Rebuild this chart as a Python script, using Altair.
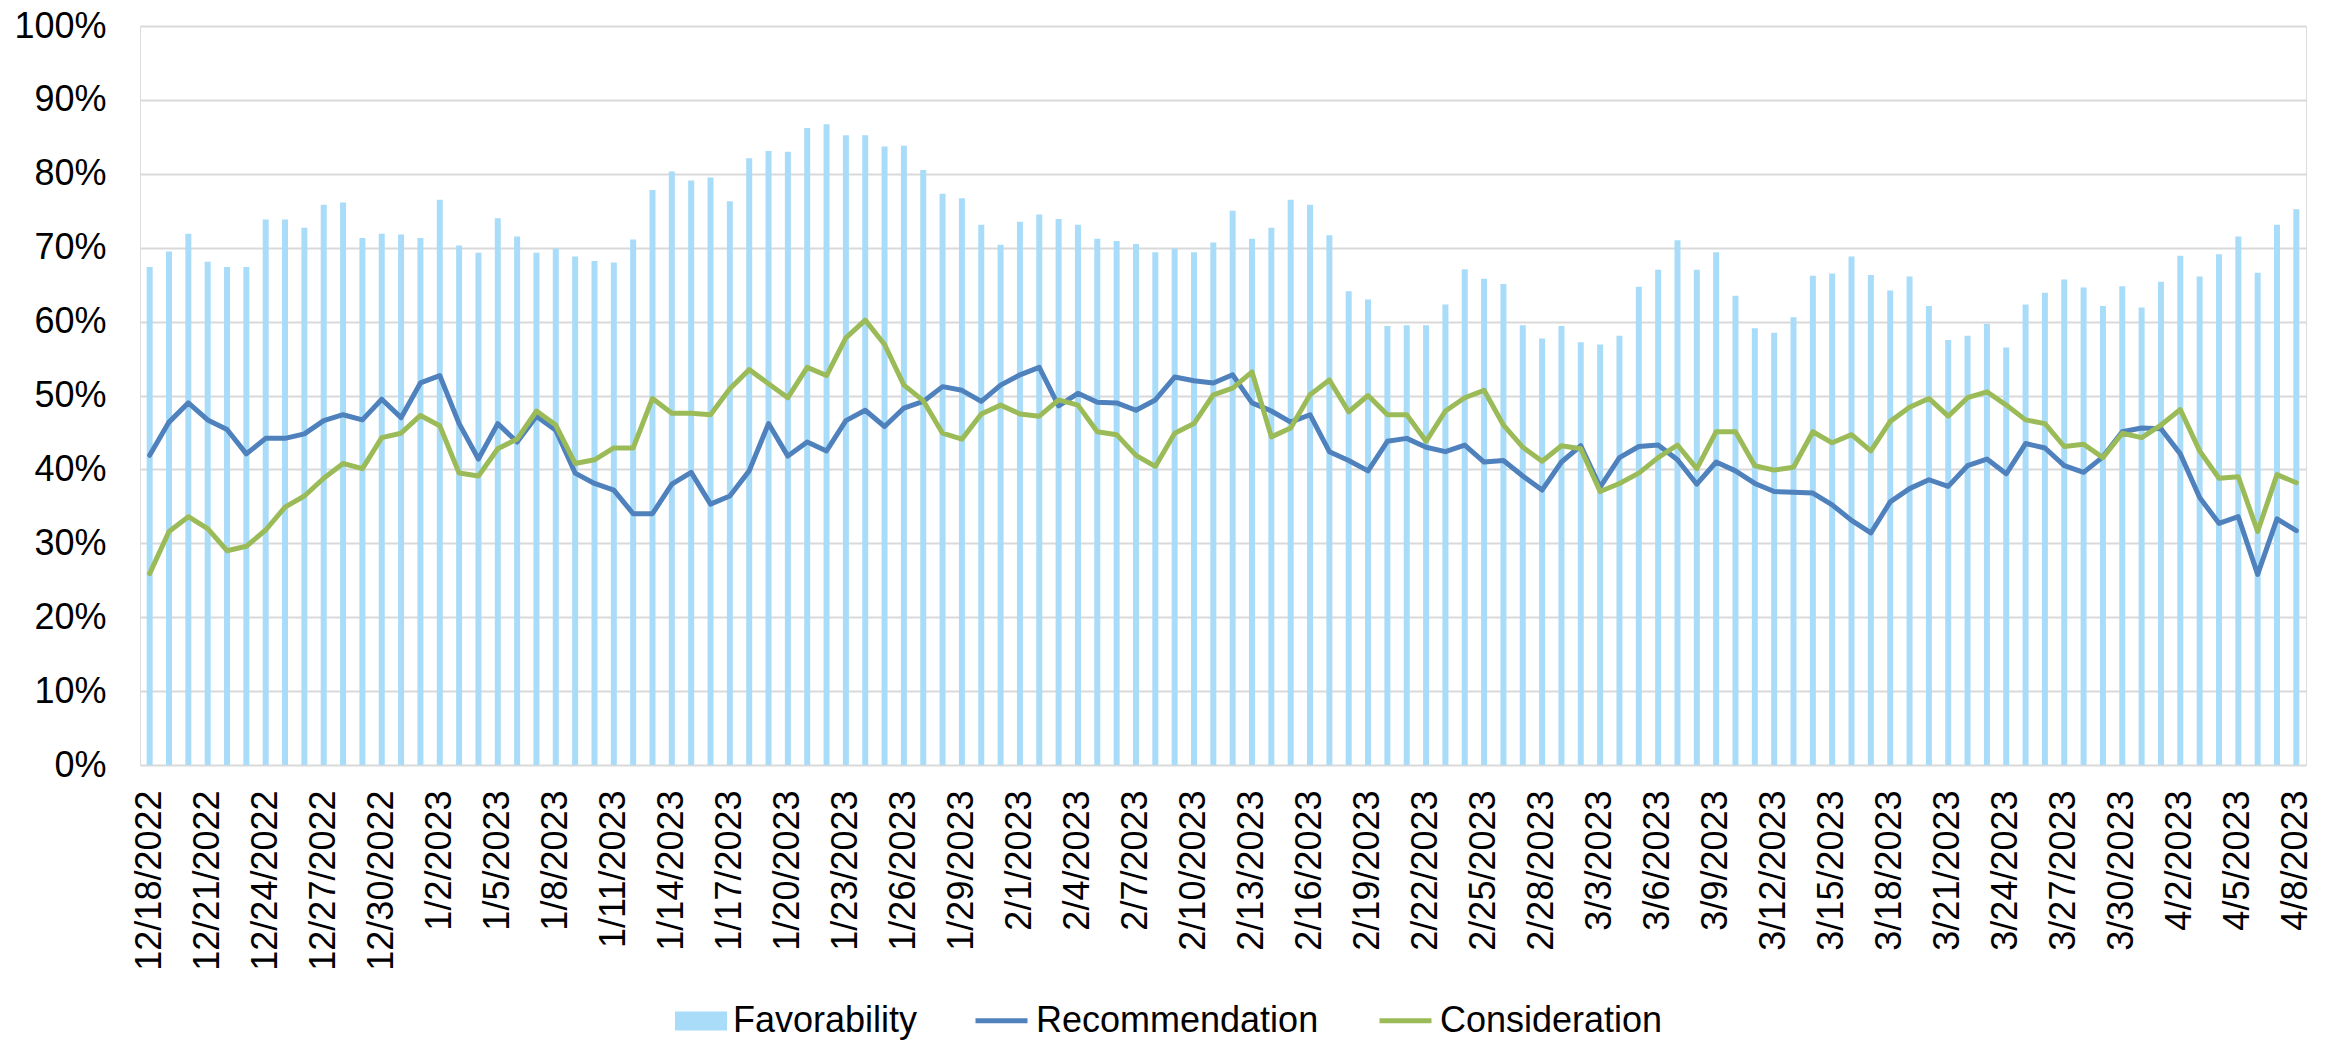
import altair as alt
import pandas as pd

# ---- categories ----
dates = [f"{d.month}/{d.day}/{d.year}" for d in pd.date_range("2022-12-18", "2023-04-08")]
tick_labels = dates[::3]
bar_names = ["Favorability"]
bar_colors = ["#a9dcf9"]
line_names = ["Recommendation", "Consideration"]
line_colors = ["#4f81bd", "#9bbb59"]

# ---- series values (percent) ----
favorability = [
    67.4, 69.5, 71.9, 68.1, 67.4, 67.4, 73.8, 73.8, 72.7, 75.8, 76.1, 71.3, 71.9, 71.8, 71.3, 76.5, 70.3, 69.3, 74.0,
    71.5, 69.3, 69.9, 68.8, 68.2, 68.0, 71.1, 77.8, 80.3, 79.1, 79.5, 76.3, 82.1, 83.1, 83.0, 86.2, 86.7, 85.2, 85.2,
    83.7, 83.8, 80.5, 77.3, 76.7, 73.1, 70.4, 73.5, 74.5, 73.9, 73.1, 71.2, 70.9, 70.5, 69.4, 69.9, 69.4, 70.7,
    75.0, 71.2, 72.7, 76.5, 75.8, 71.7, 64.1, 63.0, 59.4, 59.5, 59.5, 62.3, 67.1, 65.8, 65.1, 59.5, 57.7, 59.4, 57.2,
    56.9, 58.1, 64.7, 67.0, 71.0, 67.0, 69.4, 63.5, 59.1, 58.5, 60.6, 66.2, 66.5, 68.8, 66.3, 64.2, 66.1, 62.1, 57.5,
    58.1, 59.7, 56.5, 62.3, 63.9, 65.7, 64.6, 62.1, 64.8, 61.9, 65.4, 68.9, 66.1, 69.1, 71.5, 66.6, 73.1, 75.2,
]
recommendation = [
    41.9, 46.4, 49.0, 46.7, 45.4, 42.1, 44.2, 44.2, 44.8, 46.6, 47.4, 46.7, 49.5, 47.0, 51.7, 52.7, 46.2, 41.4, 46.2,
    43.7, 47.2, 45.3, 39.5, 38.1, 37.2, 34.0, 34.0, 38.0, 39.6, 35.3, 36.4, 39.8, 46.2, 41.8, 43.7, 42.5, 46.6, 48.0,
    45.8, 48.3, 49.2, 51.2, 50.7, 49.2, 51.4, 52.8, 53.8, 48.6, 50.3, 49.1, 49.0, 48.0, 49.4, 52.5, 52.0, 51.7,
    52.8, 49.0, 47.9, 46.4, 47.4, 42.4, 41.2, 39.8, 43.8, 44.2, 43.0, 42.4, 43.3, 41.0, 41.2, 39.1, 37.2, 41.0, 43.2,
    37.6, 41.6, 43.1, 43.3, 41.3, 38.0, 41.0, 39.8, 38.1, 37.0, 36.9, 36.8, 35.2, 33.1, 31.4, 35.6, 37.4, 38.6, 37.7,
    40.5, 41.4, 39.4, 43.5, 42.9, 40.5, 39.6, 41.7, 45.1, 45.6, 45.5, 42.1, 36.2, 32.7, 33.6, 25.8, 33.3, 31.7,
]
consideration = [
    25.9, 31.6, 33.6, 32.0, 29.0, 29.6, 31.8, 34.9, 36.4, 38.8, 40.8, 40.1, 44.3, 44.9, 47.3, 45.9, 39.5, 39.1, 42.8,
    44.1, 47.9, 46.0, 40.8, 41.3, 42.9, 42.9, 49.6, 47.6, 47.6, 47.4, 50.9, 53.5, 51.6, 49.7, 53.8, 52.7, 57.8, 60.2,
    56.9, 51.4, 49.3, 44.9, 44.1, 47.5, 48.7, 47.5, 47.2, 49.4, 48.7, 45.1, 44.7, 41.9, 40.4, 44.9, 46.2, 50.1,
    51.0, 53.2, 44.4, 45.6, 50.1, 52.1, 47.8, 50.0, 47.4, 47.4, 43.8, 47.9, 49.7, 50.7, 46.0, 43.0, 41.1, 43.2, 42.8,
    37.0, 38.1, 39.5, 41.6, 43.3, 40.1, 45.1, 45.1, 40.5, 39.9, 40.3, 45.1, 43.6, 44.7, 42.5, 46.5, 48.4, 49.6, 47.2,
    49.7, 50.5, 48.7, 46.7, 46.2, 43.1, 43.4, 41.6, 44.9, 44.3, 46.0, 48.1, 42.5, 38.8, 39.0, 31.6, 39.3, 38.2,
]

rows = []
for name, vals in zip(bar_names + line_names, [favorability, recommendation, consideration]):
    for i, (d, v) in enumerate(zip(dates, vals)):
        rows.append({"date": d, "idx": i, "series": name, "value": v})
df = pd.DataFrame(rows)

FONT = "Liberation Sans"

common_legend = dict(
    title=None,
    orient="none",
    direction="horizontal",
    labelFont=FONT,
    labelFontSize=36,
    labelColor="#000000",
    labelOffset=6,
    labelLimit=600,
    columnPadding=50,
    symbolSize=2704,
    symbolOpacity=1,
)

bar_legend = alt.Legend(
    legendX=535,
    legendY=969,
    symbolType="M-1,-0.365H1V0.365H-1Z",
    symbolStrokeWidth=0,
    **common_legend,
)
line_legend = alt.Legend(
    legendX=833,
    legendY=966,
    symbolType="stroke",
    symbolStrokeWidth=5,
    columns=2,
    **common_legend,
)

x_enc = alt.X(
    "date:N",
    sort=dates,
    scale=alt.Scale(paddingInner=0.69, paddingOuter=0.345),
    axis=alt.Axis(
        title=None,
        values=tick_labels,
        labelAngle=270,
        labelFont=FONT,
        labelFontSize=36,
        labelColor="#000000",
        labelPadding=25,
        labelLimit=600,
        ticks=False,
        domain=False,
        grid=False,
        labelOverlap=False,
    ),
)
y_enc = alt.Y(
    "value:Q",
    scale=alt.Scale(domain=[0, 100], nice=False),
    axis=alt.Axis(
        title=None,
        values=list(range(0, 101, 10)),
        labelExpr="datum.value + '%'",
        labelFont=FONT,
        labelFontSize=36,
        labelColor="#000000",
        labelPadding=34,
        ticks=False,
        domain=False,
        grid=True,
        gridColor="#d9d9d9",
        gridWidth=2,
    ),
)

base = alt.Chart(df)

bars = base.transform_filter(alt.datum.series == "Favorability").mark_bar().encode(
    x=x_enc,
    y=y_enc,
    fill=alt.Fill("series:N", scale=alt.Scale(domain=bar_names, range=bar_colors), legend=bar_legend),
)

lines = base.transform_filter(alt.datum.series != "Favorability").mark_line(
    strokeWidth=5, strokeJoin="round", strokeCap="round"
).encode(
    x=x_enc,
    y=y_enc,
    stroke=alt.Stroke("series:N", scale=alt.Scale(domain=line_names, range=line_colors), legend=line_legend),
    order=alt.Order("idx:Q"),
)

chart = alt.layer(bars, lines).resolve_scale(fill="independent", stroke="independent").properties(
    width=2166,
    height=739,
    autosize=alt.AutoSizeParams(type="none"),
    padding={"left": 132, "top": 18, "right": 20, "bottom": 276},
).configure_view(stroke=None).configure(background="white")

chart.save("out.html", embed_options={"renderer": "svg", "actions": False})
